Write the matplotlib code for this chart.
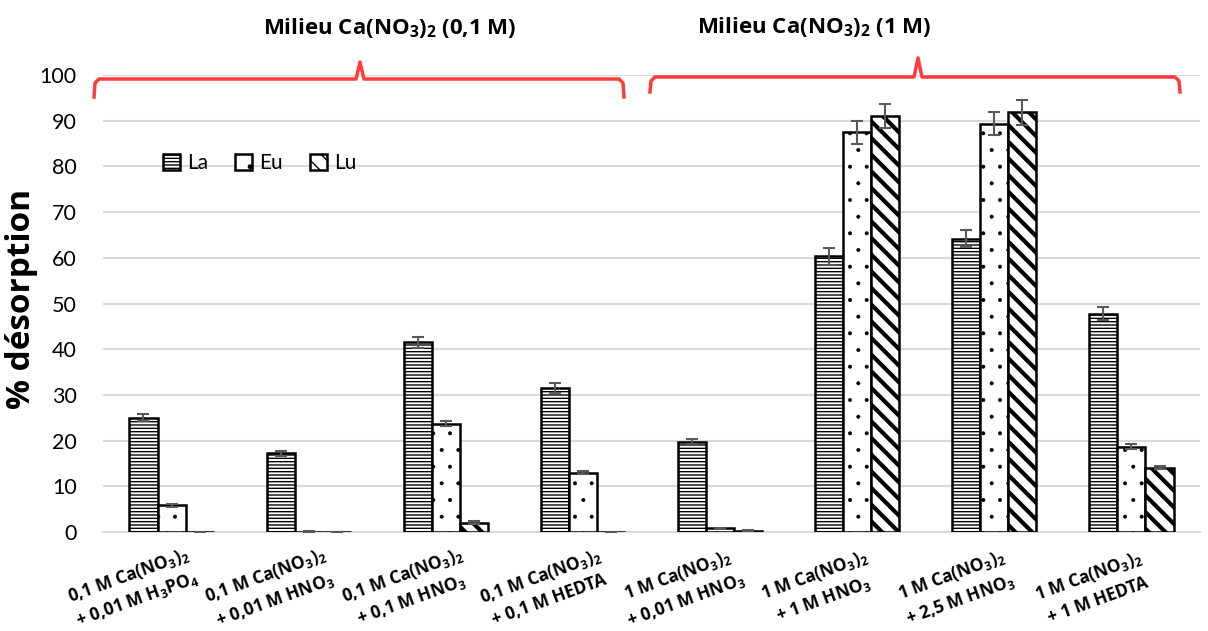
import matplotlib
matplotlib.use("Agg")
import matplotlib.pyplot as plt
import numpy as np
from matplotlib.lines import Line2D
from matplotlib.patches import Patch

plt.rcParams['font.family'] = ['Lato', 'DejaVu Sans']
plt.rcParams['mathtext.fontset'] = 'custom'
plt.rcParams['mathtext.rm'] = 'Open Sans:bold'
plt.rcParams['mathtext.default'] = 'rm'
BOLD = ['Open Sans', 'DejaVu Sans']

categories = [
    "0,1 M Ca(NO$_3$)$_2$\n+ 0,01 M H$_3$PO$_4$",
    "0,1 M Ca(NO$_3$)$_2$\n+ 0,01 M HNO$_3$",
    "0,1 M Ca(NO$_3$)$_2$\n+ 0,1 M HNO$_3$",
    "0,1 M Ca(NO$_3$)$_2$\n+ 0,1 M HEDTA",
    "1 M Ca(NO$_3$)$_2$\n+ 0,01 M HNO$_3$",
    "1 M Ca(NO$_3$)$_2$\n+ 1 M HNO$_3$",
    "1 M Ca(NO$_3$)$_2$\n+ 2,5 M HNO$_3$",
    "1 M Ca(NO$_3$)$_2$\n+ 1 M HEDTA",
]
series_names = ["La", "Eu", "Lu"]
la = [25.0, 17.2, 41.5, 31.5, 19.8, 60.3, 64.2, 47.8]
eu = [5.8, 0.1, 23.7, 13.0, 0.8, 87.5, 89.3, 18.7]
lu = [0.1, 0.1, 2.0, 0.1, 0.3, 91.0, 91.8, 14.1]
la_err = [0.8, 0.5, 1.2, 1.0, 0.6, 1.8, 1.8, 1.4]
eu_err = [0.3, 0.1, 0.6, 0.4, 0.1, 2.5, 2.5, 0.5]
lu_err = [0.0, 0.0, 0.3, 0.0, 0.1, 2.7, 2.7, 0.3]
yticks = list(range(0, 101, 10))
group_titles = ["Milieu Ca(NO$_3$)$_2$ (0,1 M)", "Milieu Ca(NO$_3$)$_2$ (1 M)"]

W, H = 1208, 631
fig = plt.figure(figsize=(W / 100, H / 100), dpi=100)
ax = fig.add_axes([103 / W, 1 - 532 / H, (1200 - 103) / W, (532 - 75) / H])

x = np.arange(len(categories))
bw = 0.205
hatches = ['-----', '.', '\\\\']
hlw = [1.0, 0.4, 3.0]
all_vals = [la, eu, lu]
all_err = [la_err, eu_err, lu_err]
for i, (vals, errs) in enumerate(zip(all_vals, all_err)):
    plt.rcParams['hatch.linewidth'] = hlw[i]
    bars = ax.bar(x + (i - 1) * bw, vals, width=bw, color='white', edgecolor='black',
                  linewidth=1.8, hatch=hatches[i], zorder=3)
    for b in bars:
        if hasattr(b, 'set_hatch_linewidth'):
            b.set_hatch_linewidth(hlw[i])
    ax.errorbar(x + (i - 1) * bw, vals, yerr=errs, fmt='none', ecolor='#595959',
                elinewidth=1.5, capsize=4.5, capthick=1.5, zorder=4)
plt.rcParams['hatch.linewidth'] = 1.0

ax.set_xlim(-0.5, len(categories) - 0.5)
ax.set_ylim(0, 100)
ax.set_yticks(yticks)
ax.tick_params(axis='y', length=0, labelsize=15.5, pad=19)
ax.tick_params(axis='x', length=0)
ax.set_xticks(x)
ax.set_xticklabels([])
for s in ['top', 'right', 'left']:
    ax.spines[s].set_visible(False)
ax.spines['bottom'].set_color('#d9d9d9')
ax.spines['bottom'].set_linewidth(1.5)
ax.yaxis.grid(True, color='#d9d9d9', linewidth=1.5, zorder=0)
ax.set_axisbelow(True)

# x labels rotated
for xi, lab in zip(x, categories):
    ax.text(xi - 0.28, -12.2, lab, rotation=20, rotation_mode='anchor', ha='center', va='center',
            fontsize=12.5, fontweight='bold', family=BOLD, multialignment='center', linespacing=1.4,
            transform=ax.transData, clip_on=False)

fig.text(22 / W, 1 - 299 / H, "% désorption", rotation=90, ha='center', va='center',
         fontsize=24, fontweight='bold', family=BOLD)

# group headers
fig.text(390 / W, 1 - 28 / H, group_titles[0], ha='center', va='center', fontsize=16,
         fontweight='bold', family=BOLD)
fig.text(814 / W, 1 - 27 / H, group_titles[1], ha='center', va='center', fontsize=16,
         fontweight='bold', family=BOLD)

# braces
def brace(x0, xm, x1, ytop, ybot, ypeak):
    pts = [(x0, ybot), (x0 + 1, ytop + 4), (x0 + 5, ytop), (xm - 4, ytop), (xm, ypeak),
           (xm + 4, ytop), (x1 - 5, ytop), (x1 - 1, ytop + 4), (x1, ybot)]
    xs = [p[0] / W for p in pts]
    ys = [1 - p[1] / H for p in pts]
    fig.add_artist(Line2D(xs, ys, color='#ff3b3b', linewidth=2.5, transform=fig.transFigure,
                          solid_joinstyle='round'))

brace(94, 360, 624, 79, 97, 62)
brace(650, 918, 1180, 77, 92, 58)

handles = []
for h, lw in zip(hatches, hlw):
    p = Patch(facecolor='white', edgecolor='black', hatch=h, linewidth=1.8)
    if hasattr(p, 'set_hatch_linewidth'):
        p.set_hatch_linewidth(lw)
    handles.append(p)
leg = fig.legend(handles, series_names, loc='center left', bbox_to_anchor=(163 / W, 1 - 163 / H),
                 bbox_transform=fig.transFigure, ncol=3, frameon=False, fontsize=15,
                 handlelength=0.8, handleheight=0.8, columnspacing=1.3, handletextpad=0.35,
                 borderpad=0, borderaxespad=0)

fig.savefig('out.png', dpi=100)
